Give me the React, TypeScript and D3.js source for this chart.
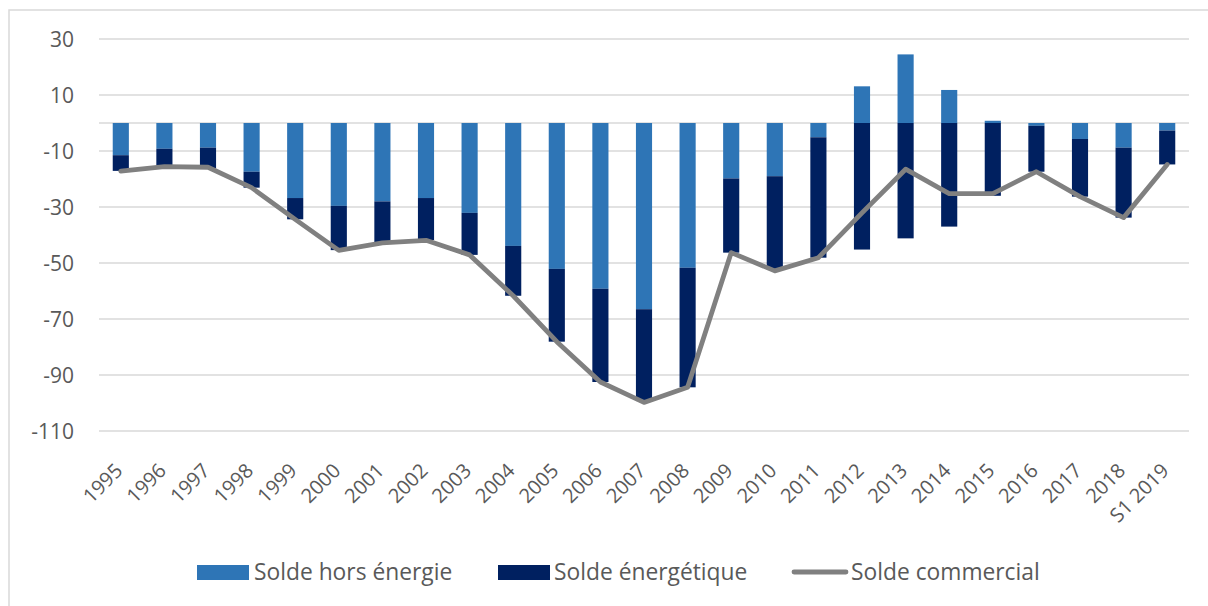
import React from "react";
import * as d3 from "d3";

const categories = ["1995","1996","1997","1998","1999","2000","2001","2002","2003","2004","2005","2006","2007","2008","2009","2010","2011","2012","2013","2014","2015","2016","2017","2018","S1 2019"];
const horsEnergie = [-11.5,-9.2,-8.8,-17.4,-26.8,-29.6,-28,-26.8,-32.1,-43.9,-52.1,-59.2,-66.5,-51.7,-19.8,-19,-5.1,13.1,24.5,11.8,0.8,-1,-5.7,-8.8,-2.7];
const energie = [-5.6,-6,-7.4,-5.7,-7.6,-15.8,-14.6,-15,-15,-17.8,-26,-33.3,-32.8,-42.7,-26.5,-33.3,-43,-45.2,-41.2,-37,-26,-16.4,-20.6,-25,-12.1];
const commercial = [-17.2,-15.6,-15.8,-23.1,-34.4,-45.5,-42.8,-41.9,-47.1,-61.7,-78.1,-92.5,-99.8,-94.4,-46.3,-52.8,-48.1,-32.1,-16.5,-25.2,-25.2,-17.4,-26.3,-33.8,-14.8];
const yTicks = [30, 10, -10, -30, -50, -70, -90, -110];
const seriesNames = ["Solde hors énergie", "Solde énergétique", "Solde commercial"];

const COL_LIGHT = "#2E75B6";
const COL_DARK = "#002060";
const COL_LINE = "#808080";
const TXT = "#595959";
const GRID = "#d9d9d9";
const FONT = "'Open Sans', 'Noto Sans', sans-serif";

export default function App() {
  const W = 1208, H = 606;
  const x = d3.scaleBand<string>().domain(categories).range([99, 1189]).paddingInner(0.63).paddingOuter(0.315);
  const y = d3.scaleLinear().domain([-110, 30]).range([431, 39]);

  const rows = categories.map((c, i) => ({ cat: c, h: horsEnergie[i], e: energie[i] }));
  const stack = d3.stack<any>().keys(["h", "e"]).offset(d3.stackOffsetDiverging);
  const stacked = stack(rows);
  const colors = [COL_LIGHT, COL_DARK];

  const line = d3.line<number>()
    .x((_, i) => (x(categories[i]) as number) + x.bandwidth() / 2)
    .y((d) => y(d));

  return (
    <svg width={W} height={H} style={{ position: "absolute", left: 0, top: 0, display: "block" }} fontFamily={FONT}>
      <rect x={0} y={0} width={W} height={H} fill="#fff" />
      <rect x={9} y={10} width={W + 20} height={H + 20} fill="none" stroke={GRID} strokeWidth={1.5} />
      {yTicks.map((t) => (
        <g key={t}>
          <line x1={99} x2={1189} y1={y(t)} y2={y(t)} stroke={GRID} strokeWidth={1.5} />
          <text x={74} y={y(t)} dy="0.36em" textAnchor="end" fontSize={21} fill={TXT}>{t}</text>
        </g>
      ))}
      <line x1={99} x2={1189} y1={y(0)} y2={y(0)} stroke={GRID} strokeWidth={1.5} />
      {stacked.map((s, si) => (
        <g key={si} fill={colors[si]}>
          {s.map((d, i) => {
            const y0 = y(d[0]), y1 = y(d[1]);
            return (
              <rect key={i} x={x(categories[i])} width={x.bandwidth()} y={Math.min(y0, y1)} height={Math.abs(y1 - y0)} />
            );
          })}
        </g>
      ))}
      <path d={line(commercial) || ""} fill="none" stroke={COL_LINE} strokeWidth={4.8} strokeLinejoin="round" strokeLinecap="round" />
      {categories.map((c) => {
        const cx = (x(c) as number) + x.bandwidth() / 2;
        return (
          <text key={c} transform={`translate(${cx + 3},${472}) rotate(-45)`} textAnchor="end" fontSize={20} fill={TXT}>{c}</text>
        );
      })}
      <g fontSize={22.8} fill={TXT}>
        <rect x={197} y={565} width={52} height={15} fill={COL_LIGHT} />
        <text x={254} y={572} dy="0.36em">{seriesNames[0]}</text>
        <rect x={498} y={565} width={52} height={15} fill={COL_DARK} />
        <text x={554} y={572} dy="0.36em">{seriesNames[1]}</text>
        <line x1={794} x2={846} y1={572} y2={572} stroke={COL_LINE} strokeWidth={4.8} strokeLinecap="round" />
        <text x={851} y={572} dy="0.36em">{seriesNames[2]}</text>
      </g>
    </svg>
  );
}
